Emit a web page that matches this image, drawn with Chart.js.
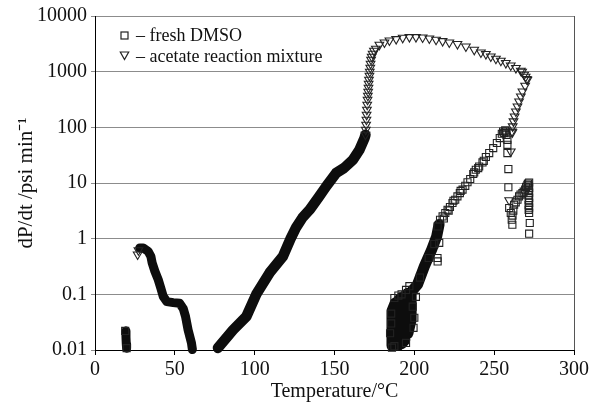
<!DOCTYPE html>
<html>
<head>
<meta charset="utf-8">
<script src="https://cdn.jsdelivr.net/npm/chart.js@4"></script>
<style>
  html, body { margin: 0; padding: 0; background: #fff; }
</style>
</head>
<body>
<canvas id="myChart" width="592" height="404"></canvas>
<script>
// axis ticks
var xTicks = [0, 50, 100, 150, 200, 250, 300];
var yTicks = [0.01, 0.1, 1, 10, 100, 1000, 10000];
var yTickLabels = ['0.01', '0.1', '1', '10', '100', '1000', '10000'];
var keyLabels = ['\u2013 fresh DMSO', '\u2013 acetate reaction mixture'];

// fresh DMSO, single markers (temperature / degC, dP/dt / psi min-1)
var dmsoT = [18.9, 19.8,
  186, 187.5, 194.8, 200, 187.5, 190, 192, 194.8, 196.9, 199, 185.5, 185.5, 201, 203.5, 199.5, 184.8,
  214.5, 214.6, 215.6, 209, 212.5,
  214.6, 216.1, 217.7, 219.4, 220.8, 222.3, 223.9, 225.6, 227, 228.5, 230.2, 231.9, 233.3, 235,
  236.9, 238.5, 240.6, 242.7, 244.8, 246.9, 249.4, 251.7, 253.5, 254.8, 255.6, 256.9, 256.3, 257.7, 257.5,
  237.5, 240, 243.5, 229, 224.5, 218.5, 221.5,
  258.3, 258.3, 258.3, 258.9, 258.9, 259.4, 260.4, 261, 261.4,
  262.5, 263.5, 264.6, 265.6, 266.5, 267.7, 268.5, 269.4, 270, 270.8, 271.2, 271.9, 271.5, 271.9,
  271.6, 271.9, 271.6, 271.9, 271.6, 271.9, 271.6, 271.9, 271.6, 271.9, 272.3, 271.9, 262, 261.5];
var dmsoRate = [0.022, 0.0108,
  0.011, 0.0117, 0.0134, 0.038, 0.086, 0.095, 0.1, 0.12, 0.14, 0.06, 0.03, 0.045, 0.09, 0.2, 0.025, 0.02,
  0.45, 0.39, 0.84, 0.45, 0.8,
  1.66, 2.19, 2.51, 2.89, 3.31, 3.71, 4.37, 5.0, 5.75, 6.6, 7.6, 8.9, 10.3, 11.8,
  14.5, 17.3, 19.8, 23.4, 29.3, 34.5, 42.3, 52.3, 64.2, 76.6, 84.2, 88, 79, 73.4, 84,
  15.5, 18.5, 25, 7.2, 4.8, 2.3, 3.2,
  59.7, 48.5, 34.5, 17.8, 8.4, 3.55, 2.89, 2.19, 1.78,
  4.07, 4.5, 5.0, 5.75, 6.2, 6.6, 7.0, 7.6, 8.5, 9.3, 9.8, 10.2, 9.0, 8.2,
  7.4, 6.7, 6.0, 5.4, 4.9, 4.4, 4.0, 3.6, 3.3, 2.9, 1.91, 1.23, 3.2, 2.6];

// fresh DMSO, runs of overlapping markers (drawn as a solid band)
var dmsoLowT = [19.3, 19.4, 19.6, 19.8];
var dmsoLowRate = [0.0219, 0.017, 0.0128, 0.0108];
var dmsoBandT = [186, 186, 188, 188, 190, 190, 192, 192, 194, 194, 196, 196, 198, 198, 202, 206.3, 210.8, 214, 215.5];
var dmsoBandRate = [0.012, 0.05, 0.07, 0.012, 0.012, 0.078, 0.088, 0.013, 0.015, 0.095, 0.105, 0.02, 0.035, 0.11, 0.15, 0.32, 0.63, 1.1, 1.8];

// acetate reaction mixture, single markers
var acetateT = [26.7, 27.2,
  169.4, 169.6, 169.8, 170, 170.1, 170.3, 170.5, 170.7, 170.9, 171.1, 171.3, 171.4, 171.6, 171.9,
  172.1, 172.4, 172.6, 172.9, 173.3, 173.9, 174.7, 175.9,
  178.1, 181.3, 184.4, 188.6, 192.7, 196.9, 201, 205.2, 209.4, 213.6, 217.7, 221.9, 227, 232.3,
  237.5, 241.7, 244.8, 247.9, 251.1, 254.2, 257.3, 260.4, 263.6, 266.7, 267.5, 268.8, 269.7, 270.4,
  270.8, 269.4, 267.7, 266.7, 265.6, 264.6, 263.6, 262.8, 262.1, 261.6, 261.1, 261.4, 260.4, 259.4];
var acetateRate = [0.52, 0.62,
  73.6, 90.6, 111, 137, 168, 207, 255, 313, 369, 435, 514, 607, 716, 844,
  996, 1175, 1387, 1636, 1853, 2095, 2372, 2576,
  3040, 3343, 3631, 3848, 4060, 4178, 4178, 4113, 3944, 3741, 3542, 3343, 3131, 2834,
  2473, 2213, 2071, 1875, 1706, 1571, 1427, 1292, 1161, 1038, 996, 880, 809, 736,
  716, 558, 441, 359, 292, 237, 193, 157, 128, 104, 84.4, 81.3, 36.9, 4.9];

// acetate reaction mixture, runs of overlapping markers
var acetateBandAT = [28, 30.2, 33.3, 35, 35.8, 37.5, 39.6, 41.2, 42.7, 45, 49, 53, 55.3, 56.7, 58.3, 60.4, 61];
var acetateBandARate = [0.68, 0.68, 0.59, 0.48, 0.366, 0.26, 0.184, 0.13, 0.092, 0.074, 0.071, 0.069, 0.055, 0.040, 0.023, 0.0134, 0.0102];
var acetateBandBT = [77, 86.5, 94.8, 101, 109.4, 117.7, 122.5, 126, 130, 134.4, 140, 144.8, 151, 156, 161.5, 165.6, 168.8, 169.4];
var acetateBandBRate = [0.0109, 0.023, 0.04, 0.1, 0.245, 0.48, 1.0, 1.6, 2.4, 3.3, 5.5, 8.7, 15.1, 18.6, 26, 39.5, 64, 73.6];

function pts(xs, ys) {
  return xs.map(function (x, i) { return { x: x, y: ys[i] }; });
}

var ink = '#0d0d0d';
var edge = '#222';

function band(xs, ys, w) {
  return {
    data: pts(xs, ys),
    showLine: true,
    borderColor: ink,
    borderWidth: w,
    borderJoinStyle: 'round',
    borderCapStyle: 'round',
    pointRadius: 0,
    clip: false
  };
}

// frame on the right and the key in the upper left
var frameAndKey = {
  id: 'frameAndKey',
  afterDraw: function (chart) {
    var ctx = chart.ctx, a = chart.chartArea;
    ctx.save();
    ctx.strokeStyle = '#555';
    ctx.lineWidth = 1;
    ctx.beginPath();
    ctx.moveTo(Math.round(a.right) + 0.5, a.top);
    ctx.lineTo(Math.round(a.right) + 0.5, a.bottom);
    ctx.stroke();

    var sx = a.left + 29.5;
    ctx.strokeStyle = edge;
    ctx.lineWidth = 1.2;
    ctx.strokeRect(sx - 3.5, 32, 7, 7);
    ctx.beginPath();
    ctx.moveTo(sx - 4.2, 52);
    ctx.lineTo(sx + 4.2, 52);
    ctx.lineTo(sx, 59.5);
    ctx.closePath();
    ctx.stroke();

    ctx.fillStyle = '#111';
    ctx.font = '18px "Liberation Serif"';
    ctx.textBaseline = 'alphabetic';
    ctx.textAlign = 'left';
    ctx.fillText(keyLabels[0], a.left + 41, 40.5);
    ctx.fillText(keyLabels[1], a.left + 41, 61.5);
    ctx.restore();
  }
};

var ctx = document.getElementById('myChart').getContext('2d');

var myChart = new Chart(ctx, {
  type: 'scatter',
  data: {
    datasets: [
      {
        label: 'fresh DMSO',
        data: pts(dmsoT, dmsoRate),
        pointStyle: 'rect',
        pointRadius: 5,
        pointBorderWidth: 1.1,
        pointBorderColor: edge,
        pointBackgroundColor: 'rgba(0,0,0,0)',
        clip: false
      },
      {
        label: 'acetate reaction mixture',
        data: pts(acetateT, acetateRate),
        pointStyle: 'triangle',
        pointRotation: 180,
        pointRadius: 5,
        pointBorderWidth: 1.1,
        pointBorderColor: edge,
        pointBackgroundColor: 'rgba(0,0,0,0)',
        clip: false
      },
      band(dmsoLowT, dmsoLowRate, 9),
      band(dmsoBandT, dmsoBandRate, 11),
      band(acetateBandAT, acetateBandARate, 9),
      band(acetateBandBT, acetateBandBRate, 10.5)
    ]
  },
  options: {
    responsive: false,
    animation: false,
    devicePixelRatio: 1,
    layout: { padding: { left: 0, right: 17, top: 16, bottom: 0 } },
    plugins: {
      legend: { display: false },
      tooltip: { enabled: false }
    },
    scales: {
      x: {
        type: 'linear',
        min: 0,
        max: 300,
        afterBuildTicks: function (s) { s.ticks = xTicks.map(function (v) { return { value: v }; }); },
        afterFit: function (s) { s.height = 54; },
        grid: { drawOnChartArea: false, drawTicks: true, tickLength: 5, color: '#000' },
        border: { color: '#000', width: 1 },
        ticks: {
          color: '#111',
          padding: 3,
          maxRotation: 0,
          font: { family: '"Liberation Serif"', size: 20 }
        },
        title: {
          display: true,
          text: 'Temperature/\u00b0C',
          color: '#111',
          padding: { top: 0, bottom: 0 },
          font: { family: '"Liberation Serif"', size: 20 }
        }
      },
      y: {
        type: 'logarithmic',
        min: 0.01,
        max: 10000,
        afterBuildTicks: function (s) { s.ticks = yTicks.map(function (v) { return { value: v }; }); },
        afterFit: function (s) { s.width = 95; },
        grid: { color: '#8c8c8c', lineWidth: 1, drawTicks: true, tickLength: 4 },
        border: { color: '#000', width: 1 },
        ticks: {
          color: '#111',
          padding: 4,
          font: { family: '"Liberation Serif"', size: 20 },
          callback: function (v, i) { return yTickLabels[i]; }
        },
        title: {
          display: true,
          text: 'dP/dt /psi min\u207b\u00b9',
          color: '#111',
          padding: { top: 14, bottom: 0 },
          font: { family: '"Liberation Serif"', size: 21 }
        }
      }
    }
  },
  plugins: [frameAndKey]
});
</script>
</body>
</html>
